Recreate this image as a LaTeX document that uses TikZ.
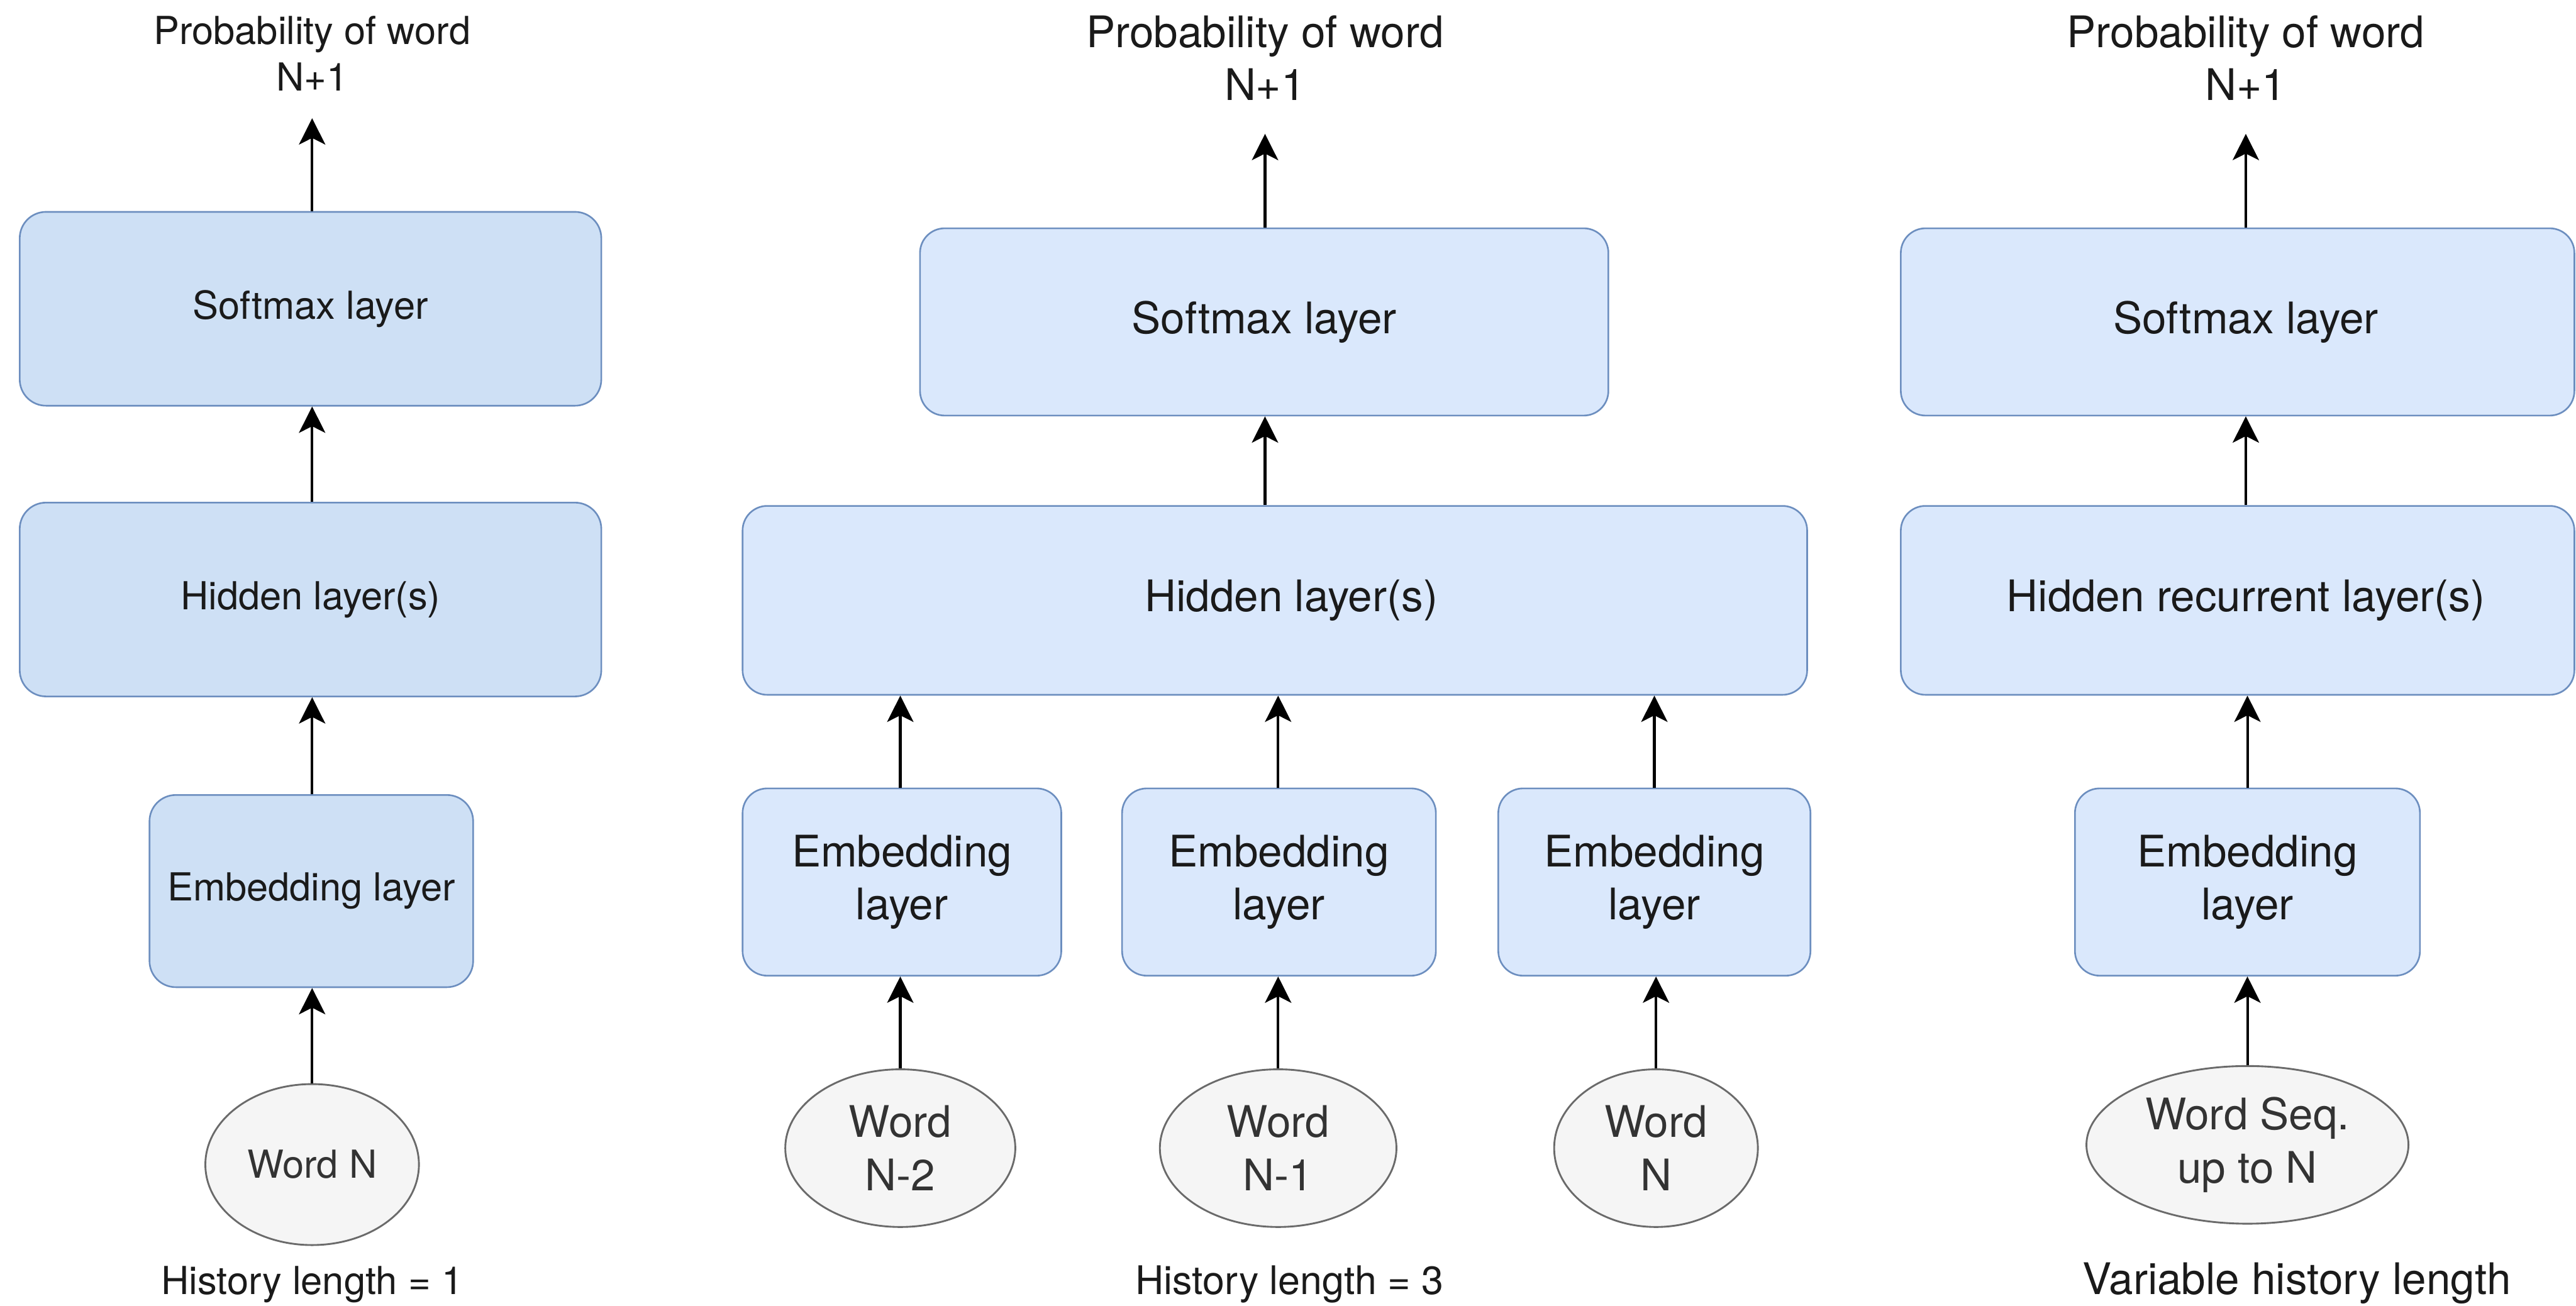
\documentclass[tikz,border=0pt]{standalone}
\usepackage{fontspec}
\setmainfont{TeX Gyre Heros}
\usetikzlibrary{arrows.meta,shapes.geometric}
\definecolor{layerfill}{HTML}{DAE8FC}
\definecolor{layerfillA}{HTML}{CEE0F5}
\definecolor{layerline}{HTML}{6C8EBF}
\definecolor{wordfill}{HTML}{F5F5F5}
\definecolor{wordline}{HTML}{6A6A6A}
\definecolor{wordtext}{HTML}{333333}
\definecolor{ink}{HTML}{1A1A1A}
\begin{document}
\begin{tikzpicture}[x=0.5pt,y=-0.5pt,
  layer/.style={draw=layerline, line width=0.5pt, fill=layerfill,
    rounded corners=7.5pt, inner sep=0pt, align=center, text=ink},
  layerA/.style={layer, fill=layerfillA, rounded corners=8pt},
  word/.style={ellipse, draw=wordline, line width=0.55pt, fill=wordfill,
    inner sep=0pt, align=center, text=wordtext},
  flow/.style={-{Stealth[length=8pt,width=8pt,inset=2pt]}, line width=0.8pt},
  big/.style={font=\fontsize{13.25}{16.25}\selectfont},
  mid/.style={font=\fontsize{12}{14.4}\selectfont},
  small/.style={font=\fontsize{11.75}{14.1}\selectfont},
  caption/.style={inner sep=0pt, align=center, text=ink},
]
\useasboundingbox (0,0) rectangle (1568,795);
\fill[white] (0,0) rectangle (1568,795);
\clip (0,0) rectangle (1568,795);

% ---------- history length 1 ----------
\node[caption, small] (t1) at (190,32.5) {Probability of word\\N+1};
\coordinate (top1) at (190,72);
\node[layerA, small, minimum width=177pt, minimum height=59pt] (soft1) at (189,188) {Softmax layer};
\node[layerA, small, minimum width=177pt, minimum height=59pt] (hid1) at (189,365) {Hidden layer(s)};
\node[layerA, small, minimum width=98.5pt, minimum height=58.5pt] (emb1) at (189.5,542.5) {Embedding layer};
\node[word, small, minimum width=65pt, minimum height=49pt] (w1) at (190,709) {Word N};
\node[caption, small, anchor=base] (c1) at (190,788) {History length = 1};

\draw[flow] (top1 |- soft1.north) -- (top1);
\draw[flow] (top1 |- hid1.north) -- (top1 |- soft1.south);
\draw[flow] (top1 |- emb1.north) -- (top1 |- hid1.south);
\draw[flow] (w1.north) -- (w1.north |- emb1.south);

% ---------- history length 3 ----------
\node[caption, big] (t2) at (770,35.3) {Probability of word\\N+1};
\coordinate (top2) at (770,81.5);
\node[layer, big, minimum width=209.5pt, minimum height=57pt] (soft2) at (769.5,196) {Softmax layer};
\node[layer, big, minimum width=324pt, minimum height=57.5pt] (hid2) at (776,365.5) {\hspace{10pt}Hidden layer(s)};
\node[layer, big, minimum width=97pt, minimum height=57pt] (emb2a) at (549,537) {Embedding\\layer};
\node[layer, big, minimum width=95.5pt, minimum height=57pt] (emb2b) at (778.5,537) {Embedding\\layer};
\node[layer, big, minimum width=95pt, minimum height=57pt] (emb2c) at (1007,537) {Embedding\\layer};
\node[word, big, minimum width=70pt, minimum height=48pt] (w2a) at (548,699) {Word\\N-2};
\node[word, big, minimum width=72pt, minimum height=48pt] (w2b) at (778,699) {Word\\N-1};
\node[word, big, minimum width=62pt, minimum height=48pt] (w2c) at (1008,699) {Word\\N};
\node[caption, mid, anchor=base] (c2) at (785,788) {History length = 3};

\draw[flow] (top2 |- soft2.north) -- (top2);
\draw[flow] (top2 |- hid2.north) -- (top2 |- soft2.south);
\draw[flow] (w2a.north |- emb2a.north) -- (w2a.north |- hid2.south);
\draw[flow] (w2b.north |- emb2b.north) -- (w2b.north |- hid2.south);
\draw[flow] (emb2c.north) -- (emb2c.north |- hid2.south);
\draw[flow] (w2a.north) -- (w2a.north |- emb2a.south);
\draw[flow] (w2b.north) -- (w2b.north |- emb2b.south);
\draw[flow] (w2c.north) -- (w2c.north |- emb2c.south);

% ---------- variable history length ----------
\node[caption, big] (t3) at (1367,35.3) {Probability of word\\N+1};
\coordinate (top3) at (1367,81.5);
\node[layer, big, minimum width=205pt, minimum height=57pt] (soft3) at (1362,196) {\hspace{5pt}Softmax layer};
\node[layer, big, minimum width=205pt, minimum height=57.5pt] (hid3) at (1362,365.5) {\hspace{5pt}Hidden recurrent layer(s)};
\node[layer, big, minimum width=105pt, minimum height=57pt] (emb3) at (1368,537) {Embedding\\layer};
\node[word, big, minimum width=98pt, minimum height=48pt] (w3) at (1368,697) {Word Seq.\\up to N};
\node[caption, big, anchor=base] (c3) at (1398,788) {Variable history length};

\draw[flow] (top3 |- soft3.north) -- (top3);
\draw[flow] (top3 |- hid3.north) -- (top3 |- soft3.south);
\draw[flow] (emb3.north) -- (emb3.north |- hid3.south);
\draw[flow] (w3.north) -- (w3.north |- emb3.south);
\end{tikzpicture}
\end{document}
